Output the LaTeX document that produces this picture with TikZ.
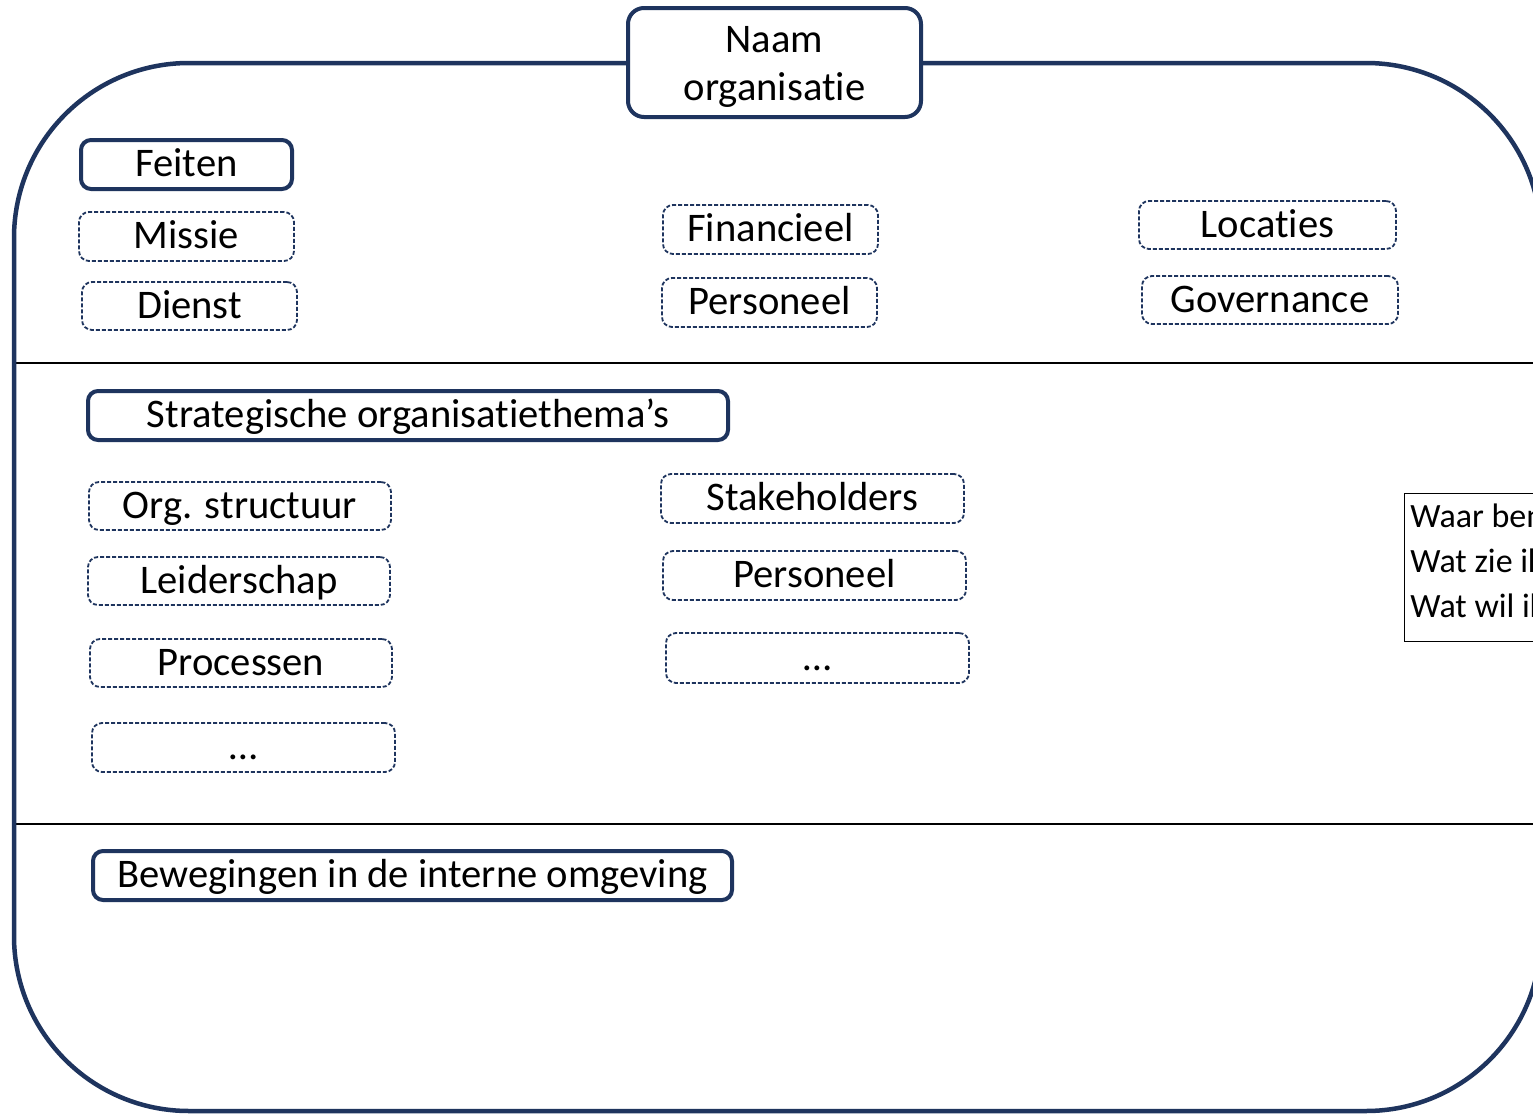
\documentclass[tikz,border=0pt]{standalone}
\usepackage{fontspec}
\setmainfont{Carlito}[Ligatures={NoCommon}]
\definecolor{navy}{RGB}{30,52,94}
\tikzset{
  boxfont/.style={font=\fontsize{20.3}{24}\selectfont, text height=15pt, text depth=2.8pt},
  solidbox/.style={draw=navy, line width=2pt, rounded corners=5pt, fill=white, inner sep=0pt,
    boxfont},
  dashbox/.style={draw=navy, line width=0.9pt, dash pattern=on 2pt off 1pt, rounded corners=5pt,
    fill=white, inner sep=0pt, boxfont, minimum height=24.5pt},
  divider/.style={draw=black, line width=0.7pt},
  frame/.style={draw=navy, line width=2.25pt, rounded corners=87.5pt},
  qline/.style={anchor=base west, inner sep=0pt, font=\fontsize{17}{20.5}\selectfont}
}
\begin{document}
\begin{tikzpicture}[x=0.5pt,y=-0.5pt]
\clip (0,0) rectangle (1533,1114);
\fill[white] (0,0) rectangle (1533,1114);
% dividers
\coordinate (d1l) at (14,363); \coordinate (d1r) at (1545,363);
\coordinate (d2l) at (14,824); \coordinate (d2r) at (1545,824);
\draw[divider] (d1l) -- (d1r);
\draw[divider] (d2l) -- (d2r);
% outer frame
\draw[frame] (14,63) rectangle (1541,1111);
% title
\node[solidbox, minimum width=146.5pt, minimum height=54.5pt, rounded corners=8pt,
  align=center, text height=39pt, text depth=1.5pt] (naam) at (774.5,62.5) {Naam\\organisatie};
% facts
\node[solidbox, minimum width=105.5pt, minimum height=24.5pt] (feiten) at (186.5,164.5) {Feiten};
\node[dashbox, minimum width=107.5pt] (missie) at (186.5,236.5) {Missie};
\node[dashbox, minimum width=107.5pt, minimum height=24pt] (dienst) at (189.5,306) {Dienst};
\node[dashbox, minimum width=107.5pt] (financieel) at (770.5,229.5) {Financieel};
\node[dashbox, minimum width=107.5pt] (personeelA) at (769.5,302.5) {Personeel};
\node[dashbox, minimum width=128.5pt, minimum height=24pt] (locaties) at (1267.5,225) {Locaties};
\node[dashbox, minimum width=128pt, minimum height=24pt] (governance) at (1270,300) {Governance};
% strategic
\node[solidbox, minimum width=320pt, minimum height=24.5pt] (strat) at (408,415.5) {Strategische organisatiethema’s};
\node[dashbox, minimum width=151pt, minimum height=24pt] (org) at (240,506) {Org. structuur};
\node[dashbox, minimum width=151pt, minimum height=24pt] (leider) at (239,581) {Leiderschap};
\node[dashbox, minimum width=151pt, minimum height=24pt] (proc) at (241,663) {Processen};
\node[dashbox, minimum width=151.5pt] (dotsA) at (243.5,747.5) {…};
\node[dashbox, minimum width=151.5pt] (stake) at (812.5,498.5) {Stakeholders};
\node[dashbox, minimum width=151.5pt] (personeelB) at (814.5,575.5) {Personeel};
\node[dashbox, minimum width=151.5pt, minimum height=25pt] (dotsB) at (817.5,658) {…};
% movements
\node[solidbox, minimum width=319.5pt, minimum height=24.5pt] (beweg) at (412.5,875.5) {Bewegingen in de interne omgeving};
% question box
\node[draw=black, line width=0.7pt, anchor=north west, minimum width=80pt, minimum height=74pt,
  inner sep=0pt] (vragen) at (1404,493) {};
\node[qline] (q1) at (1410,527) {Waar ben ik};
\node[qline] (q2) at (1410,572) {Wat zie ik};
\node[qline] (q3) at (1410,617) {Wat wil ik};
\end{tikzpicture}
\end{document}
